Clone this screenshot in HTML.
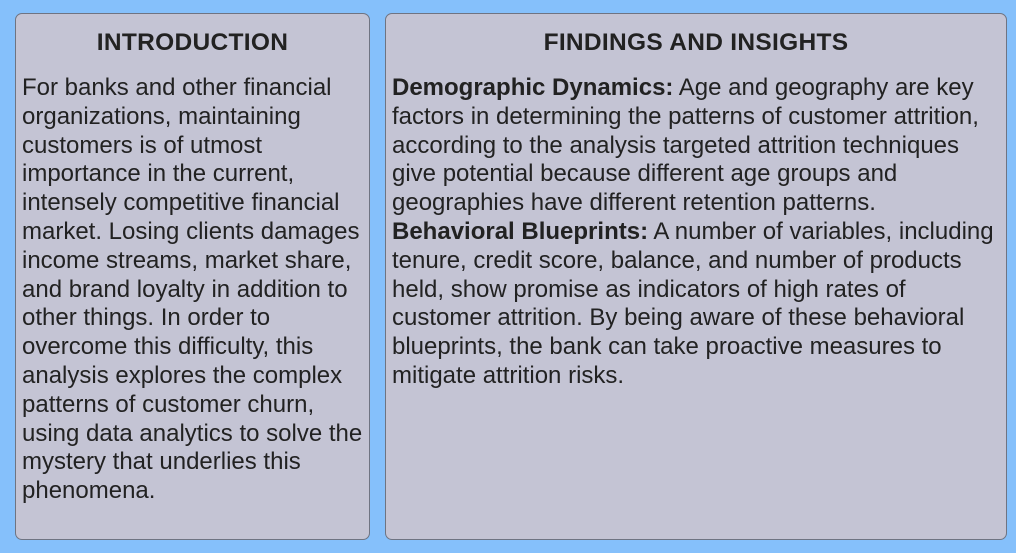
<!DOCTYPE html>
<html><head><meta charset="utf-8">
<style>
html,body{margin:0;padding:0;}
body{width:1016px;height:553px;background:#85c0fb;position:relative;overflow:hidden;font-family:"Liberation Sans","DejaVu Sans",sans-serif;color:#222;}
.panel{position:absolute;top:13px;height:527px;background:#c4c4d4;border:1px solid #6f7482;border-radius:7px;box-sizing:border-box;}
.title{position:absolute;top:15px;left:0;right:0;text-align:center;font-weight:bold;font-size:24.5px;letter-spacing:0.3px;}
.body{position:absolute;top:60px;left:6px;font-size:24px;line-height:28.8px;white-space:nowrap;}
</style></head>
<body>
<div class="panel" style="left:15px;width:355px;">
<div class="title">INTRODUCTION</div>
<div class="body">For banks and other financial<br>organizations, maintaining<br>customers is of utmost<br>importance in the current,<br>intensely competitive financial<br>market. Losing clients damages<br>income streams, market share,<br>and brand loyalty in addition to<br>other things. In order to<br>overcome this difficulty, this<br>analysis explores the complex<br>patterns of customer churn,<br>using data analytics to solve the<br>mystery that underlies this<br>phenomena.</div>
</div>
<div class="panel" style="left:385px;width:622px;">
<div class="title">FINDINGS AND INSIGHTS</div>
<div class="body"><b>Demographic Dynamics:</b> Age and geography are key<br>factors in determining the patterns of customer attrition,<br>according to the analysis targeted attrition techniques<br>give potential because different age groups and<br>geographies have different retention patterns.<br><b>Behavioral Blueprints:</b> A number of variables, including<br>tenure, credit score, balance, and number of products<br>held, show promise as indicators of high rates of<br>customer attrition. By being aware of these behavioral<br>blueprints, the bank can take proactive measures to<br>mitigate attrition risks.</div>
</div>
</body></html>
